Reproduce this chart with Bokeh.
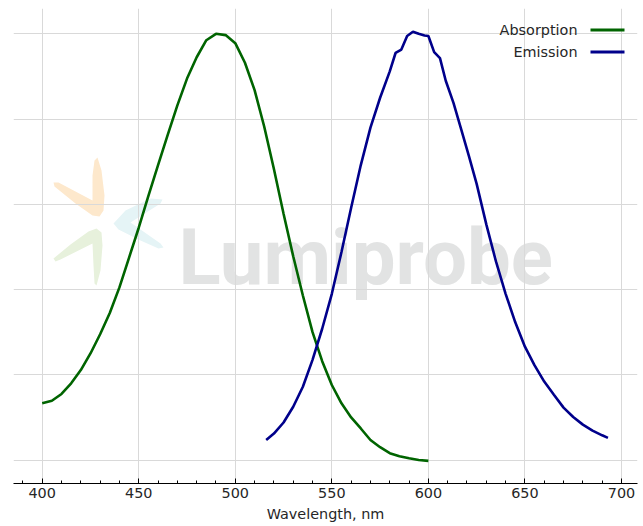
from bokeh.plotting import figure
from bokeh.models import (SingleIntervalTicker, FixedTicker, Label, Arrow,
                          PolyAnnotation)
from bokeh.embed import file_html
from bokeh.resources import INLINE

# ---------------- data ----------------
abs_wl = [400, 405, 410, 415, 420, 425, 430, 435, 440, 445, 450, 455, 460,
          465, 470, 475, 480, 485, 490, 495, 500, 505, 510, 515, 520, 525,
          530, 535, 540, 545, 550, 555, 560, 565, 570, 575, 580, 585, 590,
          595, 600]
abs_val = [0.133, 0.139, 0.155, 0.180, 0.211, 0.250, 0.295, 0.345, 0.405,
           0.475, 0.545, 0.620, 0.692, 0.763, 0.832, 0.895, 0.945, 0.985,
           1.000, 0.997, 0.978, 0.932, 0.868, 0.782, 0.683, 0.578, 0.478,
           0.386, 0.300, 0.232, 0.176, 0.133, 0.100, 0.074, 0.047, 0.030,
           0.016, 0.009, 0.004, 0.000, -0.002]

em_wl = [516, 520, 525, 530, 535, 540, 545, 550, 555, 560, 565, 570, 575,
         580, 583, 586, 589, 592, 595, 598, 600, 603, 606, 609, 613, 617,
         621, 625, 630, 635, 640, 645, 650, 655, 660, 665, 670, 675, 680,
         685, 690, 693]
em_val = [0.047, 0.062, 0.088, 0.125, 0.172, 0.235, 0.308, 0.390, 0.488,
          0.592, 0.692, 0.780, 0.850, 0.912, 0.955, 0.963, 0.995, 1.005,
          1.000, 0.996, 0.995, 0.957, 0.943, 0.890, 0.838, 0.776, 0.713,
          0.648, 0.553, 0.466, 0.390, 0.323, 0.266, 0.222, 0.184, 0.153,
          0.123, 0.101, 0.083, 0.069, 0.058, 0.052]

series_names = ["Absorption", "Emission"]
x_label = "Wavelength, nm"
watermark = "Lumiprobe"
grid_levels = [0.0, 0.2, 0.4, 0.6, 0.8, 1.0]

# ---------------- styling ----------------
ABS_COLOR = "#006400"
EM_COLOR = "#00008b"
TEXT_COLOR = "#262626"
FONT = "DejaVu Sans"
FS = "14.4px"

p = figure(width=643, height=526, x_range=(385.14, 708.3),
           y_range=(-0.0551, 1.0594), y_axis_location=None,
           output_backend="svg", toolbar_location=None,
           min_border_left=13, min_border_right=6, min_border_top=8,
           min_border_bottom=43)
p.outline_line_color = None
p.background_fill_color = "white"
p.border_fill_color = "white"

# x axis
p.xaxis.ticker = SingleIntervalTicker(interval=50, num_minor_ticks=5)
p.xaxis.axis_label = x_label
p.xaxis.axis_label_text_font = FONT
p.xaxis.axis_label_text_font_size = FS
p.xaxis.axis_label_text_font_style = "normal"
p.xaxis.axis_label_text_color = TEXT_COLOR
p.xaxis.axis_label_standoff = 5
p.xaxis.major_label_text_font = FONT
p.xaxis.major_label_text_font_size = FS
p.xaxis.major_label_text_color = TEXT_COLOR
p.xaxis.major_label_standoff = 4
p.xaxis.axis_line_color = "black"
p.xaxis.major_tick_line_color = "black"
p.xaxis.minor_tick_line_color = "black"
p.xaxis.major_tick_in = 5
p.xaxis.major_tick_out = 0
p.xaxis.minor_tick_in = 3
p.xaxis.minor_tick_out = 0

# grids
p.xgrid.grid_line_color = "#d9d9d9"
p.ygrid.grid_line_color = "#d9d9d9"
p.ygrid.ticker = FixedTicker(ticks=grid_levels)

# ---------------- watermark (decoration, screen units) ----------------
FRAME_LEFT, FRAME_TOP, FRAME_H = 13, 8, 475


def sx(wx):
    return wx - FRAME_LEFT


def sy(wy):
    return FRAME_H - (wy - FRAME_TOP)


petals = [
    ("#fde8cc", [(97, 157), (101, 170), (104, 195), (103, 210), (99, 216),
                 (92, 215), (75, 203), (54, 186), (53, 182), (58, 182),
                 (92, 200), (92, 175), (94, 160)]),
    ("#e7f1dc", [(96, 285), (100, 270), (102, 245), (101, 232), (96, 228),
                 (88, 231), (70, 244), (53, 258), (55, 261), (60, 259),
                 (92, 243), (93, 265), (94, 283)]),
    ("#e5f4f6", [(113, 223), (125, 210), (150, 198), (162, 199), (160, 203),
                 (130, 222), (160, 243), (163, 247), (158, 248), (140, 240),
                 (118, 229)]),
]
for col, pts in petals:
    p.add_layout(PolyAnnotation(xs=[sx(a) for a, b in pts],
                                ys=[sy(b) for a, b in pts],
                                xs_units="screen", ys_units="screen",
                                fill_color=col, fill_alpha=1.0,
                                line_color=None, level="image"))

p.add_layout(Label(x=sx(178), y=sy(257), x_units="screen", y_units="screen",
                   text=watermark, text_font="Roboto",
                   text_font_size="78px", text_font_style="bold",
                   text_color="#e2e3e3",
                   text_baseline="alphabetic", text_align="left",
                   level="image"))

# ---------------- data lines ----------------
p.line(abs_wl, abs_val, line_color=ABS_COLOR, line_width=2.6)
p.line(em_wl, em_val, line_color=EM_COLOR, line_width=2.6)

# ---------------- legend (label left of line sample) ----------------
for i, (name, col) in enumerate(zip(series_names, [ABS_COLOR, EM_COLOR])):
    wy = 29.5 + 22 * i
    p.add_layout(Label(x=sx(577), y=sy(wy), x_units="screen",
                       y_units="screen", text=name, text_font=FONT,
                       text_font_size=FS, text_color=TEXT_COLOR,
                       text_align="right", text_baseline="middle"))
    p.add_layout(Arrow(x_start=sx(590), y_start=sy(wy), x_end=sx(624),
                       y_end=sy(wy), start_units="screen", end_units="screen",
                       start=None, end=None, line_color=col, line_width=3))

open("out.html", "w").write(file_html(p, INLINE))
